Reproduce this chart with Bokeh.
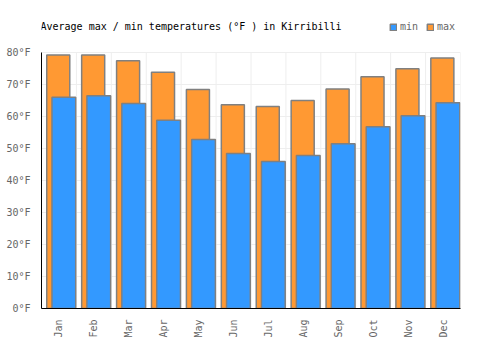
from bokeh.plotting import figure
from bokeh.models import FixedTicker, Range1d, Legend, LegendItem, ColumnDataSource, Label
from bokeh.embed import file_html
from bokeh.resources import INLINE
import math

months = ["Jan", "Feb", "Mar", "Apr", "May", "Jun", "Jul", "Aug", "Sep", "Oct", "Nov", "Dec"]
max_temp = [79.2, 79.2, 77.4, 73.8, 68.4, 63.7, 63.1, 65.0, 68.6, 72.4, 74.9, 78.3]
min_temp = [66.0, 66.5, 64.1, 58.8, 52.8, 48.4, 45.9, 47.8, 51.5, 56.8, 60.2, 64.3]
y_ticks = [0, 10, 20, 30, 40, 50, 60, 70, 80]
y_tick_labels = [f"{t}°F" for t in y_ticks]
title_text = "Average max / min temperatures (°F ) in Kirribilli"

MONO = "DejaVu Sans Mono"
BLUE = "#3399ff"
ORANGE = "#ff9933"
OUTLINE = "#808080"
GRID = "#eeeeee"

idx = list(range(len(months)))
src = ColumnDataSource(dict(
    x_max=[i + 0.48 for i in idx],
    x_min=[i + 0.64 for i in idx],
    mx=max_temp,
    mn=min_temp,
))

y_top = y_ticks[-1]
# frame extends above the 80°F line so that title and legend can live inside it
p = figure(width=500, height=350, output_backend="svg", toolbar_location=None,
           x_range=Range1d(0, 12), y_range=Range1d(0, y_top + 38 / 3.2),
           min_border_left=41, min_border_right=40, min_border_top=14, min_border_bottom=42)
p.outline_line_color = None
p.background_fill_color = "white"
p.xgrid.visible = False

# vertical grid lines between months, limited to the value range
gx = list(range(len(months) + 1))
p.segment(x0=gx, y0=[0] * len(gx), x1=gx, y1=[y_top] * len(gx),
          line_color=GRID, line_width=1)

r_max = p.vbar(x="x_max", top="mx", bottom=0, width=0.66, source=src,
               fill_color=ORANGE, line_color=OUTLINE, line_width=1.5)
r_min = p.vbar(x="x_min", top="mn", bottom=0, width=0.68, source=src,
               fill_color=BLUE, line_color=OUTLINE, line_width=1.5)

p.xaxis.ticker = FixedTicker(ticks=[i + 0.5 for i in idx])
p.xaxis.major_label_overrides = {i + 0.5: m for i, m in zip(idx, months)}
p.xaxis.major_label_orientation = math.pi / 2

p.yaxis.ticker = FixedTicker(ticks=y_ticks)
p.yaxis.major_label_overrides = {t: l for t, l in zip(y_ticks, y_tick_labels)}
p.yaxis.bounds = (0, y_top)

for ax in (p.xaxis, p.yaxis):
    ax.axis_line_color = "black"
    ax.axis_line_width = 1
    ax.major_tick_line_color = None
    ax.minor_tick_line_color = None
    ax.major_label_text_font = MONO
    ax.major_label_text_font_size = "10px"
    ax.major_label_text_color = "#666666"
    ax.major_label_standoff = 5

p.ygrid.grid_line_color = GRID
p.ygrid.grid_line_width = 1

p.add_layout(Label(x=0, y=y_top + 26 / 3.2, x_offset=-1, text=title_text,
                   text_font=MONO, text_font_size="10px", text_color="black",
                   text_baseline="middle", text_align="left"))

legend = Legend(items=[LegendItem(label="min", renderers=[r_min]),
                       LegendItem(label="max", renderers=[r_max])],
                orientation="horizontal", location=(348, 276),
                glyph_width=8, glyph_height=8, label_height=10, label_standoff=3,
                spacing=6, padding=0, margin=0,
                border_line_color=None, background_fill_alpha=0,
                label_text_font=MONO, label_text_font_size="10px",
                label_text_color="#666666")
p.add_layout(legend)

open("out.html", "w").write(file_html(p, INLINE))
